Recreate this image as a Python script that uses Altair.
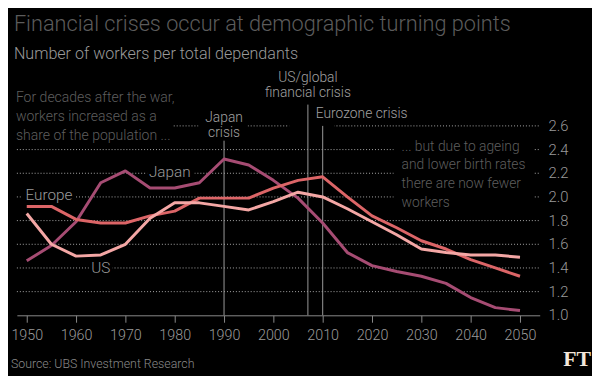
import altair as alt
import pandas as pd

# ---- data ----
years = list(range(1950, 2055, 5))
japan = [1.46, 1.59, 1.79, 2.12, 2.22, 2.075, 2.075, 2.12, 2.32, 2.27, 2.14,
         1.99, 1.78, 1.53, 1.42, 1.37, 1.33, 1.27, 1.15, 1.065, 1.04]
europe = [1.92, 1.92, 1.81, 1.78, 1.78, 1.84, 1.88, 1.99, 1.99, 1.99, 2.075,
          2.14, 2.17, 2.00, 1.84, 1.74, 1.63, 1.56, 1.47, 1.40, 1.33]
us = [1.86, 1.60, 1.50, 1.51, 1.60, 1.82, 1.95, 1.95, 1.92, 1.89, 1.96,
      2.04, 2.00, 1.90, 1.79, 1.68, 1.56, 1.53, 1.51, 1.51, 1.49]
series_names = ["Japan", "Europe", "US"]
series_colors = ["#a64c73", "#dc6567", "#f4a7a5"]

crisis_years = [1990, 2007, 2010]
crisis_tops = [2.475, 2.78, 2.6]
crisis_bottoms = [1.0, 1.0, 1.0]

y_ticks = [1.0, 1.2, 1.4, 1.6, 1.8, 2.0, 2.2, 2.4, 2.6]
x_ticks = list(range(1950, 2051, 5))

rows = []
for name, vals in zip(series_names, [japan, europe, us]):
    for yr, v in zip(years, vals):
        rows.append({"year": yr, "value": v, "series": name})
df = pd.DataFrame(rows)
crisis = pd.DataFrame({"year": crisis_years, "top": crisis_tops, "bottom": crisis_bottoms})
yt = pd.DataFrame({"v": y_ticks})

FONT = "Roboto"
W, H = 530, 192
xscale = alt.Scale(domain=[1948, 2054], nice=False, zero=False)
yscale = alt.Scale(domain=[1.0, 2.6], nice=False, zero=False)

one = pd.DataFrame({"k": [0]})


def box(x0, y0, x1, y1):
    return alt.Chart(one).mark_rect(color="#000000").encode(
        x=alt.value(x0), x2=alt.value(x1), y=alt.value(y0), y2=alt.value(y1))


def label(text, x, y, color, size, align="left", lh=None, weight=300, font=FONT):
    kw = dict(align=align, baseline="alphabetic", color=color, fontSize=size,
              font=font, fontWeight=weight, lineBreak="\n")
    if lh:
        kw["lineHeight"] = lh
    return alt.Chart(pd.DataFrame({"t": [text]})).mark_text(**kw).encode(
        x=alt.value(x), y=alt.value(y), text="t:N")


# x axis (bottom)
axes = alt.Chart(df).mark_line(opacity=0).encode(
    x=alt.X("year:Q", scale=xscale, axis=alt.Axis(
        values=x_ticks, format="d", title=None, grid=False,
        labelExpr="datum.value % 10 == 0 ? datum.label : ''",
        tickSize=7, tickColor="#8a8a8a", domainColor="#8a8a8a",
        labelColor="#9a9a9a", labelFont=FONT, labelFontSize=14.5,
        labelFontWeight=300, labelPadding=7, labelFlush=False,
        labelOverlap=False)),
    y=alt.Y("value:Q", scale=yscale, axis=None),
)

# dotted horizontal gridlines and right-hand value labels
grid = alt.Chart(yt).transform_filter("datum.v > 1.01").mark_rule(
    color="#aaaaaa", strokeDash=[1, 2], strokeWidth=1).encode(
    y=alt.Y("v:Q", scale=yscale, axis=None),
    x=alt.value(0), x2=alt.value(W + 1),
)
ylabels = alt.Chart(yt).mark_text(
    align="left", baseline="middle", color="#9a9a9a", fontSize=15,
    font=FONT, fontWeight=300).encode(
    y=alt.Y("v:Q", scale=yscale, axis=None),
    x=alt.value(W + 9),
    text=alt.Text("v:Q", format=".1f"),
)

backgrounds = [
    box(-9, -39, 158, 15),      # left annotation
    box(184, -17, 234, 14),     # Japan crisis
    box(276, -5, 322, 6),       # gap near US/global line
    box(382, 12, 524, 86),      # right annotation
    box(132, 38, 180, 56),      # Japan label
    box(4, 62, 59, 79),         # Europe label
    box(73, 135, 97, 153),      # US label
]

rules = alt.Chart(crisis).mark_rule(color="#9a9a9a", strokeWidth=1).encode(
    x=alt.X("year:Q", scale=xscale),
    y=alt.Y("top:Q", scale=yscale),
    y2="bottom:Q",
)

lines = alt.Chart(df).mark_line(strokeWidth=3, strokeJoin="round").encode(
    x=alt.X("year:Q", scale=xscale),
    y=alt.Y("value:Q", scale=yscale),
    color=alt.Color("series:N", scale=alt.Scale(domain=series_names, range=series_colors), legend=None),
    detail="series:N",
)

texts = [
    label("Financial crises occur at demographic turning points", -3, -96.7, "#5c5c5c", 22),
    label("Number of workers per total dependants", -3, -68.3, "#9a9a9a", 16.3),
    label("For decades after the war,\nworkers increased as a\nshare of the population ...",
          -1, -24, "#5e5e5e", 14.2, lh=19),
    label("Japan\ncrisis", 210, -4, "#a0a0a0", 14, align="center", lh=15),
    label("US/global\nfinancial crisis", 295, -44.3, "#a0a0a0", 14, align="center", lh=15.3),
    label("Eurozone crisis", 303, -8.3, "#a0a0a0", 14),
    label("... but due to ageing\nand lower birth rates\nthere are now fewer\nworkers",
          390, 25, "#5e5e5e", 14, lh=19),
    label("Japan", 155, 51.7, "#9a9a9a", 15.5, align="center"),
    label("Europe", 32.5, 75, "#9a9a9a", 15.5, align="center"),
    label("US", 85, 149, "#9a9a9a", 15.5, align="center"),
    label("Source: UBS Investment Research", -6, 245, "#8a8a8a", 12.5),
    label("FT", 582, 243, "#f2e6da", 22, align="right", weight="bold", font="Liberation Serif"),
]

chart = alt.layer(axes, grid, ylabels, *backgrounds, rules, lines, *texts).properties(
    width=W,
    height=H,
    autosize=alt.AutoSizeParams(type="none"),
    padding={"left": 9, "top": 117, "right": 53, "bottom": 59},
    background="#000000",
).configure_view(stroke=None)

chart.save("out.html", embed_options={"renderer": "svg", "actions": False})
